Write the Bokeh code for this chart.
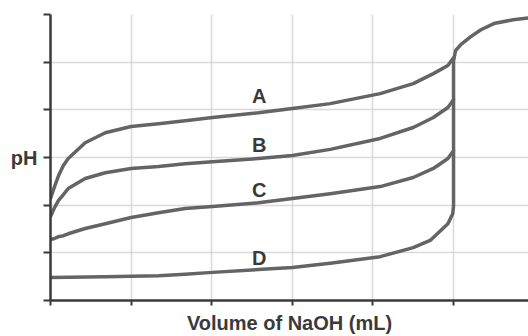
from bokeh.plotting import figure
from bokeh.models import Range1d, FixedTicker, Label
from bokeh.embed import file_html
from bokeh.resources import INLINE

# Volume of NaOH (arbitrary units, equivalence at 5)
vol = [0, 0.05, 0.10, 0.16, 0.22, 0.43, 0.68, 1.0, 1.34, 1.67, 2.01, 2.58, 3.0, 3.47, 4.09, 4.50, 4.75, 4.93, 5.0]
ph_a = [2.14, 2.39, 2.62, 2.83, 2.98, 3.31, 3.52, 3.65, 3.71, 3.77, 3.84, 3.94, 4.03, 4.13, 4.34, 4.55, 4.76, 4.93, 5.09]
ph_b = [1.76, 1.95, 2.10, 2.22, 2.35, 2.56, 2.68, 2.77, 2.81, 2.87, 2.91, 2.98, 3.04, 3.17, 3.40, 3.63, 3.84, 4.05, 4.21]
ph_c = [1.28, 1.30, 1.34, 1.36, 1.40, 1.51, 1.61, 1.74, 1.84, 1.93, 1.97, 2.05, 2.14, 2.24, 2.39, 2.58, 2.77, 2.98, 3.14]

vol_d = [0, 0.68, 1.0, 1.34, 1.67, 2.01, 2.58, 3.0, 3.47, 4.09, 4.50, 4.71, 4.93, 4.99, 5.0,
         5.0, 5.025, 5.09, 5.21, 5.34, 5.50, 5.74, 5.93]
ph_d = [0.48, 0.50, 0.51, 0.52, 0.55, 0.59, 0.65, 0.69, 0.78, 0.92, 1.11, 1.26, 1.61, 1.82, 1.99,
        5.03, 5.24, 5.37, 5.53, 5.68, 5.81, 5.89, 5.93]

curve_labels = ["A", "B", "C", "D"]
label_x = [2.59, 2.59, 2.59, 2.59]
label_y = [4.29, 3.26, 2.32, 0.89]

x_ticks = [0, 1, 2, 3, 4, 5]
y_ticks = [0, 1, 2, 3, 4, 5, 6]

p = figure(width=528, height=336, x_range=Range1d(0, 5.93), y_range=Range1d(0, 6),
           output_backend="svg", toolbar_location=None,
           min_border_left=50, min_border_right=0, min_border_top=14, min_border_bottom=36)
p.outline_line_color = None
p.background_fill_color = "white"
p.border_fill_color = "white"

for ax, ticks, tout in ((p.xaxis, x_ticks, 5), (p.yaxis, y_ticks, 7)):
    ax.ticker = FixedTicker(ticks=ticks)
    ax.major_label_overrides = {t: "" for t in ticks}
    ax.major_label_standoff = 0
    ax.minor_tick_line_color = None
    ax.major_tick_in = 0
    ax.major_tick_out = tout
    ax.axis_line_color = "#3a3a3a"
    ax.axis_line_width = 2.5
    ax.major_tick_line_color = "#3a3a3a"
    ax.major_tick_line_width = 2
    ax.axis_label_text_font = "Liberation Sans"
    ax.axis_label_text_font_style = "bold"
    ax.axis_label_text_font_size = "20px"
    ax.axis_label_text_color = "#3a3a3a"

p.xaxis.axis_label = "Volume of NaOH (mL)"
p.xaxis.axis_label_standoff = 6
p.yaxis.axis_label = "pH"
p.yaxis.axis_label_orientation = "horizontal"
p.yaxis.axis_label_standoff = 6

p.xgrid.ticker = FixedTicker(ticks=x_ticks)
p.ygrid.ticker = FixedTicker(ticks=y_ticks)
p.grid.grid_line_color = "#d9d9d9"
p.grid.grid_line_width = 1.5

col = "#646464"
for ys in (ph_a, ph_b, ph_c):
    p.line(vol, ys, line_color=col, line_width=3.5, line_join="round", line_cap="round")
p.line(vol_d, ph_d, line_color=col, line_width=3.5, line_join="round", line_cap="round")

for t, lx, ly in zip(curve_labels, label_x, label_y):
    p.add_layout(Label(x=lx, y=ly, text=t, text_align="center", text_baseline="middle",
                       text_font="Liberation Sans", text_font_style="bold",
                       text_font_size="20px", text_color="#3a3a3a"))

open("out.html", "w").write(file_html(p, INLINE))
